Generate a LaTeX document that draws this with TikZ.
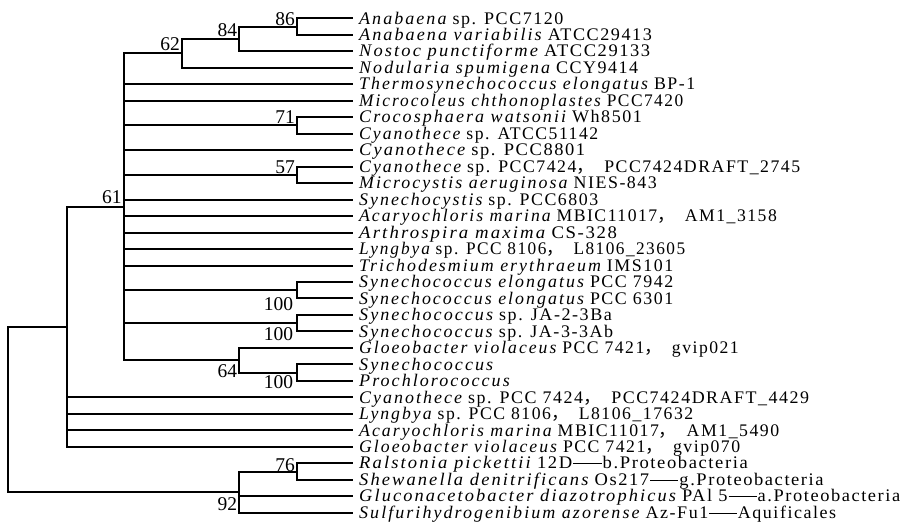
\documentclass[tikz,border=0pt]{standalone}
\usepackage{graphicx}
\usepackage{fontspec}
\setmainfont{Liberation Serif}[LetterSpace=8.5]
\newfontfamily\itf{Liberation Serif Italic}[LetterSpace=11.3]
\newfontfamily\bsfont{Liberation Serif}
\newfontfamily\cjk{Noto Sans CJK SC}
\newcommand{\sn}[1]{{\itf #1}}
\newcommand{\cmm}{{\cjk ，}\hspace{10pt}}
\newcommand{\dsh}{\kern1pt\rule[4.8pt]{27pt}{0.9pt}\kern1pt}
\newcommand{\fitto}[2]{\resizebox{#1pt}{\height}{#2}}
\begin{document}
\begin{tikzpicture}[x=1pt,y=-1pt,
  br/.style={line width=2pt, line join=miter, draw=black},
  leaf/.style={inner sep=0pt, anchor=base west, font=\fontsize{17.7}{20}\selectfont},
  bs/.style={inner sep=0pt, anchor=base east, font=\bsfont\fontsize{19.5}{20}\selectfont}]
\useasboundingbox (0,0) rectangle (903,528);
% leaves
\foreach \i/\w/\t in {
 1/204.3/{\sn{Anabaena} sp. PCC7120},
 2/292.7/{\sn{Anabaena variabilis} ATCC29413},
 3/291/{\sn{Nostoc punctiforme} ATCC29133},
 4/279/{\sn{Nodularia spumigena} CCY9414},
 5/336/{\sn{Thermosynechococcus elongatus} BP-1},
 6/324/{\sn{Microcoleus chthonoplastes} PCC7420},
 7/282.7/{\sn{Crocosphaera watsonii} Wh8501},
 8/239/{\sn{Cyanothece} sp. ATCC51142},
 9/226/{\sn{Cyanothece} sp. PCC8801},
 10/441/{\sn{Cyanothece} sp. PCC7424\cmm PCC7424DRAFT\_2745},
 11/297.7/{\sn{Microcystis aeruginosa} NIES-843},
 12/239/{\sn{Synechocystis} sp. PCC6803},
 13/417.7/{\sn{Acaryochloris marina} MBIC11017\cmm AM1\_3158},
 14/257.7/{\sn{Arthrospira maxima} CS-328},
 15/326/{\sn{Lyngbya} sp. PCC 8106\cmm L8106\_23605},
 16/314/{\sn{Trichodesmium erythraeum} IMS101},
 17/314/{\sn{Synechococcus elongatus} PCC 7942},
 18/314/{\sn{Synechococcus elongatus} PCC 6301},
 19/252.7/{\sn{Synechococcus} sp. JA-2-3Ba},
 20/254/{\sn{Synechococcus} sp. JA-3-3Ab},
 21/379.6/{\sn{Gloeobacter violaceus} PCC 7421\cmm gvip021},
 22/134/{\sn{Synechococcus}},
 23/150.6/{\sn{Prochlorococcus}},
 24/450/{\sn{Cyanothece} sp. PCC 7424\cmm PCC7424DRAFT\_4429},
 25/334/{\sn{Lyngbya} sp. PCC 8106\cmm L8106\_17632},
 26/420/{\sn{Acaryochloris marina} MBIC11017\cmm AM1\_5490},
 27/381/{\sn{Gloeobacter violaceus} PCC 7421\cmm gvip070},
 28/388.6/{\sn{Ralstonia pickettii} 12D\dsh b.Proteobacteria},
 29/464.4/{\sn{Shewanella denitrificans} Os217\dsh g.Proteobacteria},
 30/541/{\sn{Gluconacetobacter diazotrophicus} PAl 5\dsh a.Proteobacteria},
 31/477/{\sn{Sulfurihydrogenibium azorense} Az-Fu1\dsh Aquificales}}{
  \coordinate (L\i) at (353,{18.3+16.48*(\i-1)});
  \node[leaf] (T\i) at (359,{24+16.48*(\i-1)}) {\fitto{\w}{\t}};
}
% internal nodes
\coordinate (n86) at (296.7,26.54);
\coordinate (n84) at (239,38.9);
\coordinate (n62) at (181.7,53.32);
\coordinate (n71) at (296.7,125.42);
\coordinate (n57) at (296.7,174.86);
\coordinate (nS1) at (296.7,290.22);
\coordinate (nS2) at (296.7,323.18);
\coordinate (n100c) at (296.7,372.62);
\coordinate (n64) at (239,360.26);
\coordinate (C) at (124,206.79);
\coordinate (A) at (66.7,326.785);
\coordinate (n76) at (296.7,471.5);
\coordinate (O) at (239,492.1);
\coordinate (R) at (8.3,409.44);
% branches
\foreach \c in {A,O} \draw[br] (R) |- (\c);
\foreach \c in {C,L24,L25,L26,L27} \draw[br] (A) |- (\c);
\foreach \c in {n62,L5,L6,n71,L9,n57,L12,L13,L14,L15,L16,nS1,nS2,n64} \draw[br] (C) |- (\c);
\foreach \c in {n84,L4} \draw[br] (n62) |- (\c);
\foreach \c in {n86,L3} \draw[br] (n84) |- (\c);
\foreach \c in {L1,L2} \draw[br] (n86) |- (\c);
\foreach \c in {L7,L8} \draw[br] (n71) |- (\c);
\foreach \c in {L10,L11} \draw[br] (n57) |- (\c);
\foreach \c in {L17,L18} \draw[br] (nS1) |- (\c);
\foreach \c in {L19,L20} \draw[br] (nS2) |- (\c);
\foreach \c in {L21,n100c} \draw[br] (n64) |- (\c);
\foreach \c in {L22,L23} \draw[br] (n100c) |- (\c);
\foreach \c in {n76,L30,L31} \draw[br] (O) |- (\c);
\foreach \c in {L28,L29} \draw[br] (n76) |- (\c);
% bootstrap values
\node[bs] (b86) at (295,25) {86};
\node[bs] (b84) at (237.3,36.7) {84};
\node[bs] (b62) at (180,50) {62};
\node[bs] (b71) at (295,123.3) {71};
\node[bs] (b57) at (295,173.3) {57};
\node[bs] (b61) at (121.7,203.3) {61};
\node[bs] (bS1) at (293.3,310.2) {100};
\node[bs] (bS2) at (293.3,340) {100};
\node[bs] (b100c) at (293.3,388.2) {100};
\node[bs] (b64) at (237.3,377.7) {64};
\node[bs] (b76) at (295,471.7) {76};
\node[bs] (b92) at (237.3,510) {92};
\end{tikzpicture}
\end{document}
